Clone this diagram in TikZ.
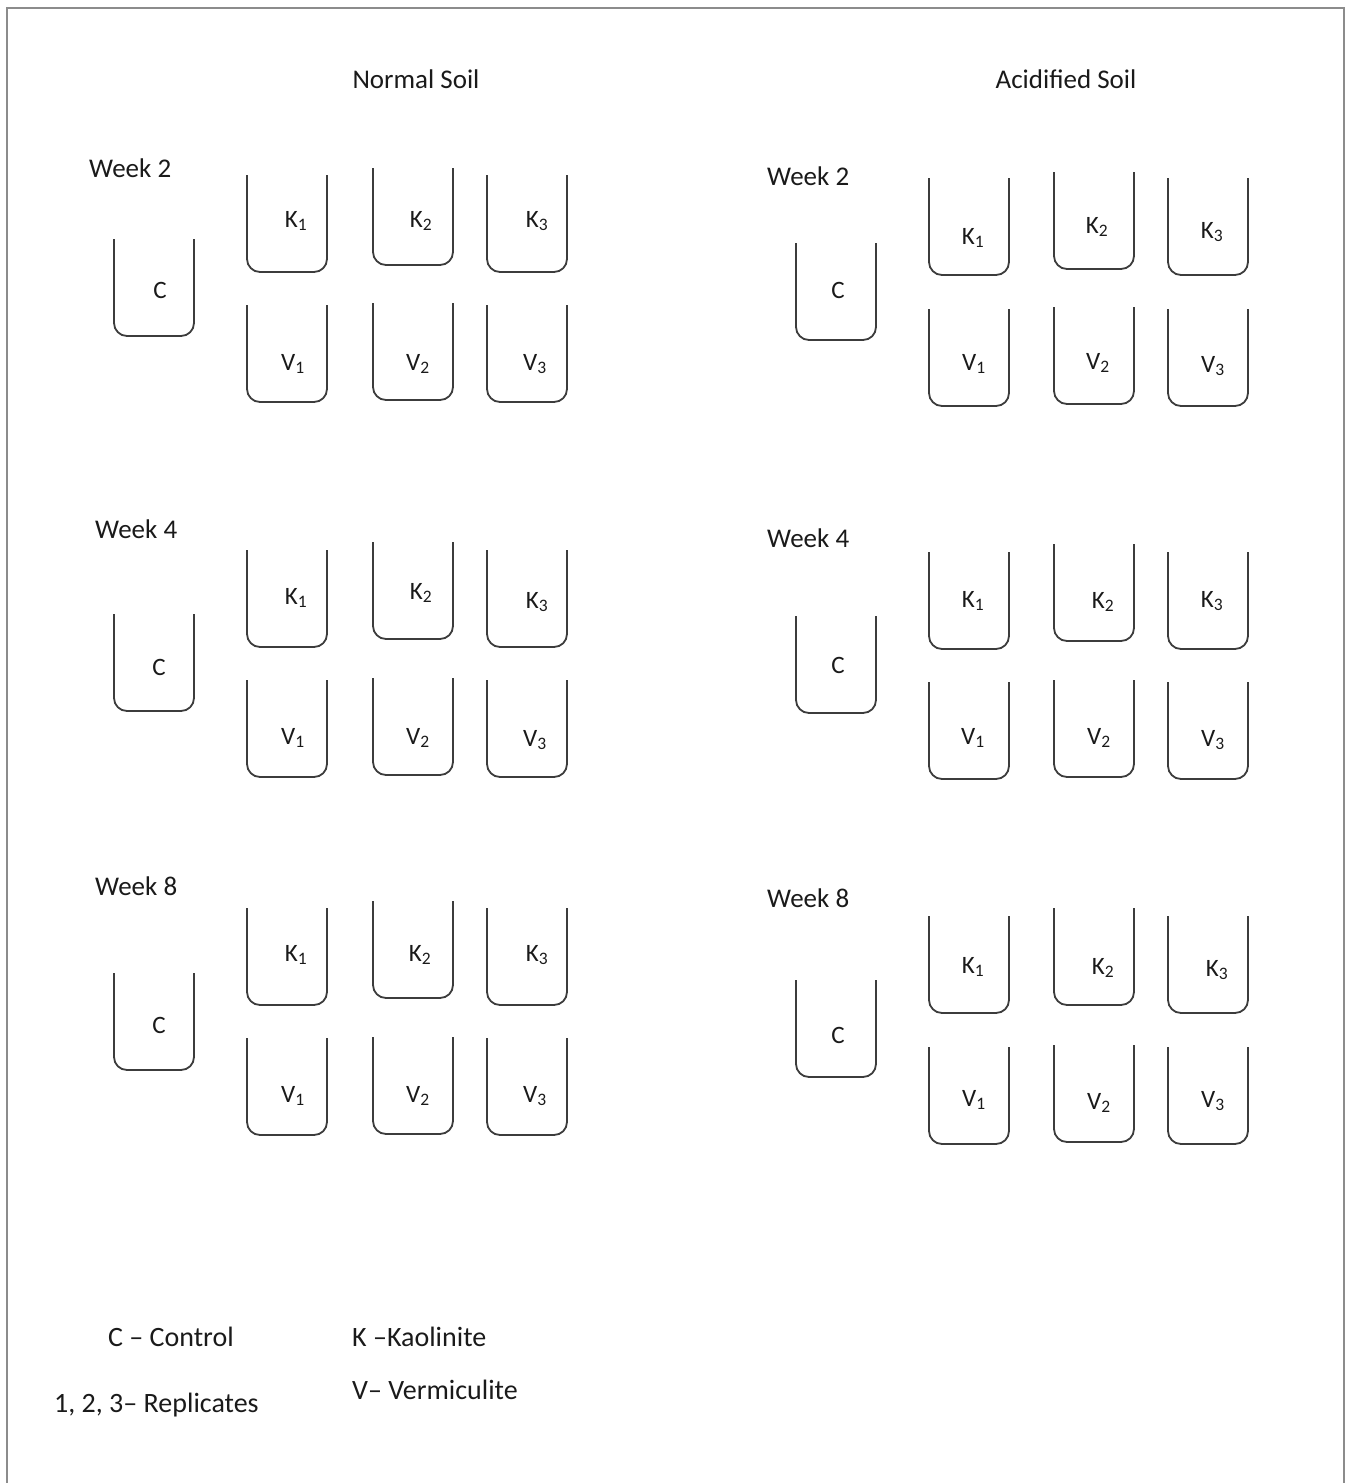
\documentclass[tikz,border=0pt]{standalone}
\usepackage{fontspec}
\setmainfont{Carlito}
\definecolor{inkc}{HTML}{1A1A1A}
\definecolor{linec}{HTML}{3C3C3C}
\definecolor{framec}{HTML}{8C8C8C}
\tikzset{
  beakerline/.style={draw=linec, line width=1.8pt, rounded corners=13pt},
  framelines/.style={draw=framec, line width=1.5pt},
  lbl/.style={inner sep=0pt, text=inkc, font=\fontsize{25}{30}\selectfont},
  txt/.style={inner sep=0pt, text=inkc, font=\fontsize{27}{32}\selectfont},
  legtxt/.style={inner sep=0pt, text=inkc, font=\fontsize{28}{33}\selectfont},
}
% #1 left x, #2 top y
\newcommand{\beaker}[2]{\draw[beakerline] (#1,#2) -- (#1,#2+97) -- (#1+80,#2+97) -- (#1+80,#2);}
\begin{document}
\begin{tikzpicture}[x=1pt,y=-1pt]
\useasboundingbox (0,0) rectangle (1345,1483);
\draw[framelines] (7,1483) -- (7,8) -- (1344,8) -- (1344,1483);

% titles
\node[txt] (tn) at (416,79) {Normal Soil};
\node[txt] (ta) at (1066,79) {Acidified Soil};

% ---------- Normal soil ----------
% Week 2
\node[txt,anchor=west] (nw2) at (89,168) {Week 2};
\beaker{114}{239}\beaker{247}{175}\beaker{373}{168}\beaker{487}{175}
\beaker{247}{305}\beaker{373}{303}\beaker{487}{305}
\node[lbl] (n2C) at (160,290) {C};
\node[lbl] (n2K1) at (296,221) {K\textsubscript{1}};
\node[lbl] (n2K2) at (421,221) {K\textsubscript{2}};
\node[lbl] (n2K3) at (537,221) {K\textsubscript{3}};
\node[lbl] (n2V1) at (293,364) {V\textsubscript{1}};
\node[lbl] (n2V2) at (418,364) {V\textsubscript{2}};
\node[lbl] (n2V3) at (535,364) {V\textsubscript{3}};
% Week 4
\node[txt,anchor=west] (nw4) at (95,529) {Week 4};
\beaker{114}{614}\beaker{247}{550}\beaker{373}{542}\beaker{487}{550}
\beaker{247}{680}\beaker{373}{678}\beaker{487}{680}
\node[lbl] (n4C) at (159,667) {C};
\node[lbl] (n4K1) at (296,598) {K\textsubscript{1}};
\node[lbl] (n4K2) at (421,593) {K\textsubscript{2}};
\node[lbl] (n4K3) at (537,602) {K\textsubscript{3}};
\node[lbl] (n4V1) at (293,738) {V\textsubscript{1}};
\node[lbl] (n4V2) at (418,738) {V\textsubscript{2}};
\node[lbl] (n4V3) at (535,740) {V\textsubscript{3}};
% Week 8
\node[txt,anchor=west] (nw8) at (95,886) {Week 8};
\beaker{114}{973}\beaker{247}{908}\beaker{373}{901}\beaker{487}{908}
\beaker{247}{1038}\beaker{373}{1037}\beaker{487}{1038}
\node[lbl] (n8C) at (159,1025) {C};
\node[lbl] (n8K1) at (296,955) {K\textsubscript{1}};
\node[lbl] (n8K2) at (420,955) {K\textsubscript{2}};
\node[lbl] (n8K3) at (537,955) {K\textsubscript{3}};
\node[lbl] (n8V1) at (293,1096) {V\textsubscript{1}};
\node[lbl] (n8V2) at (418,1096) {V\textsubscript{2}};
\node[lbl] (n8V3) at (535,1096) {V\textsubscript{3}};

% ---------- Acidified soil ----------
% Week 2
\node[txt,anchor=west] (aw2) at (767,176) {Week 2};
\beaker{796}{243}\beaker{929}{178}\beaker{1054}{172}\beaker{1168}{178}
\beaker{929}{309}\beaker{1054}{307}\beaker{1168}{309}
\node[lbl] (a2C) at (838,290) {C};
\node[lbl] (a2K1) at (973,238) {K\textsubscript{1}};
\node[lbl] (a2K2) at (1097,227) {K\textsubscript{2}};
\node[lbl] (a2K3) at (1212,232) {K\textsubscript{3}};
\node[lbl] (a2V1) at (974,364) {V\textsubscript{1}};
\node[lbl] (a2V2) at (1098,363) {V\textsubscript{2}};
\node[lbl] (a2V3) at (1213,366) {V\textsubscript{3}};
% Week 4
\node[txt,anchor=west] (aw4) at (767,538) {Week 4};
\beaker{796}{616}\beaker{929}{552}\beaker{1054}{544}\beaker{1168}{552}
\beaker{929}{682}\beaker{1054}{680}\beaker{1168}{682}
\node[lbl] (a4C) at (838,665) {C};
\node[lbl] (a4K1) at (973,601) {K\textsubscript{1}};
\node[lbl] (a4K2) at (1103,602) {K\textsubscript{2}};
\node[lbl] (a4K3) at (1212,601) {K\textsubscript{3}};
\node[lbl] (a4V1) at (973,738) {V\textsubscript{1}};
\node[lbl] (a4V2) at (1099,738) {V\textsubscript{2}};
\node[lbl] (a4V3) at (1213,740) {V\textsubscript{3}};
% Week 8
\node[txt,anchor=west] (aw8) at (767,898) {Week 8};
\beaker{796}{980}\beaker{929}{916}\beaker{1054}{908}\beaker{1168}{916}
\beaker{929}{1047}\beaker{1054}{1045}\beaker{1168}{1047}
\node[lbl] (a8C) at (838,1035) {C};
\node[lbl] (a8K1) at (973,967) {K\textsubscript{1}};
\node[lbl] (a8K2) at (1103,968) {K\textsubscript{2}};
\node[lbl] (a8K3) at (1217,970) {K\textsubscript{3}};
\node[lbl] (a8V1) at (974,1100) {V\textsubscript{1}};
\node[lbl] (a8V2) at (1099,1103) {V\textsubscript{2}};
\node[lbl] (a8V3) at (1213,1101) {V\textsubscript{3}};

% ---------- legend ----------
\node[legtxt,anchor=west] (lc) at (108,1337) {C – Control};
\node[legtxt,anchor=west] (lr) at (54,1405) {1, 2, 3– Replicates};
\node[legtxt,anchor=west] (lk) at (352,1337) {K –Kaolinite};
\node[legtxt,anchor=west] (lv) at (352,1390) {V– Vermiculite};
\end{tikzpicture}
\end{document}
